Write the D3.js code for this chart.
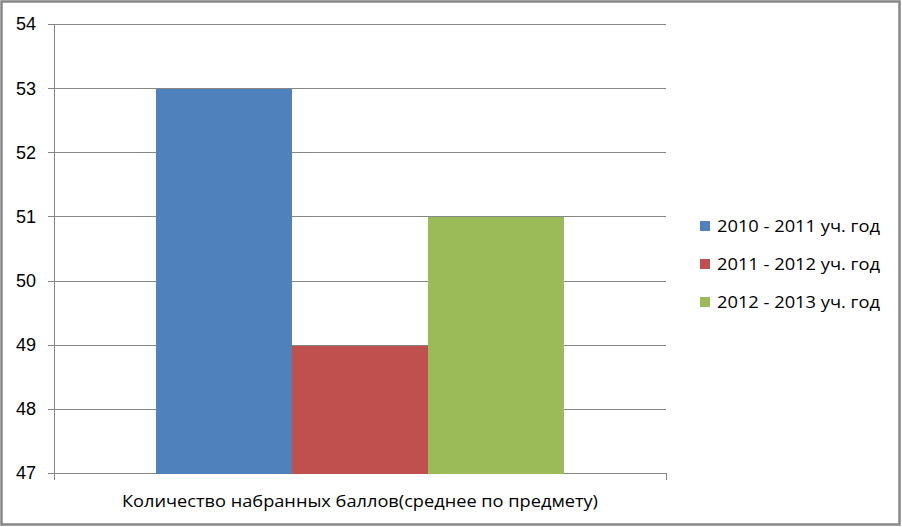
<!DOCTYPE html>
<html><head><meta charset="utf-8">
<script src="https://cdn.jsdelivr.net/npm/d3@7"></script>
<style>body{margin:0;background:#fff}svg{display:block}</style>
</head><body>
<svg id="c" width="902" height="527"></svg>
<script>
const categories = ["Количество набранных баллов(среднее по предмету)"];
const series = ["2010 - 2011 уч. год", "2011 - 2012 уч. год", "2012 - 2013 уч. год"];
const values = [53, 49, 51];
const colors = ["#4F81BD", "#C0504D", "#9BBB59"];
const yTicks = [47, 48, 49, 50, 51, 52, 53, 54];

const svg = d3.select("#c");
const font = "'Liberation Sans', Arial, sans-serif";
const tfont = "'Open Sans', 'Liberation Sans', sans-serif";
svg.append("rect").attr("x", 1.5).attr("y", 1.5).attr("width", 898).attr("height", 523)
  .attr("fill", "#fff").attr("stroke", "#868686").attr("stroke-width", 2.5);

const L = 54, R = 666, T = 24, B = 473;
const y = d3.scaleLinear().domain([47, 54]).range([B, T]);
const gx = d3.scaleBand().domain(categories).range([L, R]);
const x1 = d3.scaleBand().domain(series).range([gx(categories[0]) + gx.bandwidth()/6, gx(categories[0]) + gx.bandwidth()*5/6]);

svg.append("g").selectAll("line").data(yTicks).join("line")
  .attr("x1", L - 6).attr("x2", R).attr("y1", d => Math.round(y(d)) + 0.5).attr("y2", d => Math.round(y(d)) + 0.5)
  .attr("stroke", "#868686").attr("stroke-width", 1);

svg.append("g").selectAll("rect").data(values).join("rect")
  .attr("x", (d, i) => x1(series[i])).attr("width", x1.bandwidth())
  .attr("y", d => Math.round(y(d)) + 1).attr("height", d => B - Math.round(y(d)) - 0.5)
  .attr("fill", (d, i) => colors[i]).attr("shape-rendering", "crispEdges");

svg.append("line").attr("x1", L + 0.5).attr("x2", L + 0.5).attr("y1", T).attr("y2", B + 7)
  .attr("stroke", "#868686");
svg.append("line").attr("x1", R + 0.5).attr("x2", R + 0.5).attr("y1", B).attr("y2", B + 7)
  .attr("stroke", "#868686");

svg.append("g").selectAll("text").data(yTicks).join("text")
  .attr("x", 36).attr("y", d => y(d)).attr("dy", "0.36em")
  .attr("text-anchor", "end").attr("font-family", font).attr("font-size", 18)
  .attr("fill", "#000").text(d => d);

svg.append("text").attr("x", 360).attr("y", 507)
  .attr("text-anchor", "middle").attr("font-family", tfont).attr("font-size", 17)
  .attr("fill", "#000").attr("textLength", 476).attr("lengthAdjust", "spacingAndGlyphs")
  .text(categories[0]);

const lg = svg.append("g").selectAll("g").data(series).join("g")
  .attr("transform", (d, i) => `translate(700, ${226 + i * 38})`);
lg.append("rect").attr("x", 0).attr("y", -5).attr("width", 10).attr("height", 10)
  .attr("fill", (d, i) => colors[i]);
lg.append("text").attr("x", 17).attr("y", 0).attr("dy", "0.36em")
  .attr("font-family", tfont).attr("font-size", 17).attr("fill", "#000")
  .attr("textLength", 163).attr("lengthAdjust", "spacingAndGlyphs").text(d => d);
</script>
</body></html>
